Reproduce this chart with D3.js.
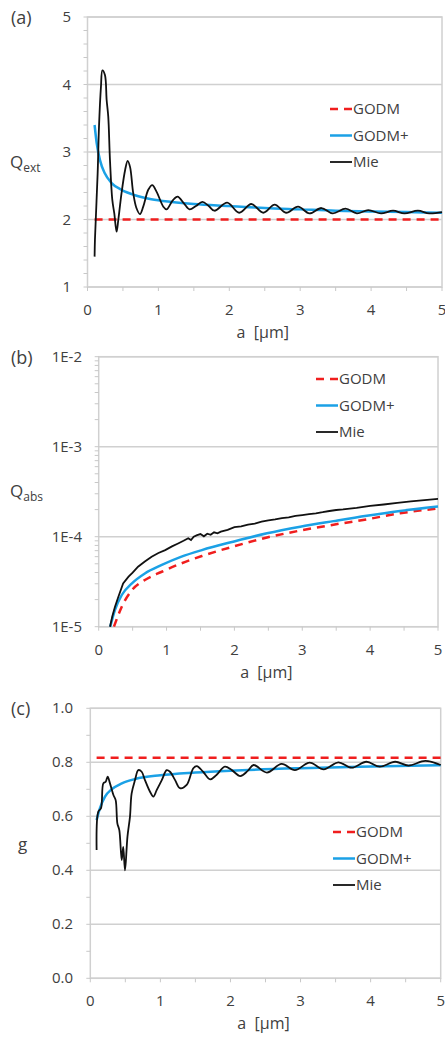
<!DOCTYPE html>
<html>
<head>
<meta charset="utf-8">
<script src="https://cdn.jsdelivr.net/npm/d3@7"></script>
<style>
  body { margin: 0; background: #fff; }
  text { font-family: "Open Sans", sans-serif; fill: #404040; }
</style>
</head>
<body>
<svg id="mychart" width="445" height="1046"></svg>
<script>
// ---- panel (a): Q_ext ----
const extMieA = [0.1, 0.105, 0.143, 0.162, 0.19, 0.21, 0.246, 0.27, 0.293, 0.317, 0.35, 0.378, 0.41, 0.434, 0.48,
  0.53, 0.566, 0.6, 0.645, 0.69, 0.74, 0.786, 0.857, 0.913, 0.975, 1.07, 1.115, 1.2, 1.27, 1.36, 1.44, 1.53, 1.62,
  1.71, 1.79, 1.97, 2.14, 2.31, 2.48, 2.64, 2.8, 2.97, 3.13, 3.3, 3.46, 3.64, 3.8, 3.96, 4.14, 4.31, 4.47, 4.66,
  4.82, 5.0];
const extMieQ = [1.45, 1.7, 2.68, 3.37, 3.97, 4.21, 4.14, 3.77, 3.52, 2.88, 2.29, 2.09, 1.82, 1.99, 2.39,
  2.73, 2.87, 2.78, 2.39, 2.17, 2.08, 2.19, 2.44, 2.51, 2.41, 2.19, 2.15, 2.28, 2.34, 2.24, 2.15, 2.2, 2.26,
  2.2, 2.13, 2.25, 2.1, 2.23, 2.1, 2.22, 2.1, 2.19, 2.09, 2.17, 2.09, 2.16, 2.09, 2.14, 2.09, 2.13, 2.09, 2.13,
  2.09, 2.11];
const extPlusA = [0.1, 0.13, 0.176, 0.246, 0.34, 0.48, 0.67, 0.9, 1.19, 1.5, 2.0, 2.5, 3.0, 3.5, 4.0, 4.5, 5.0];
const extPlusQ = [3.4, 3.13, 2.88, 2.68, 2.54, 2.44, 2.36, 2.3, 2.26, 2.23, 2.2, 2.17, 2.15, 2.13, 2.12, 2.11, 2.1];
const extGodmA = [0.1, 5.0];
const extGodmQ = [2.0, 2.0];

// ---- panel (b): Q_abs ----
const absMieA = [0.167, 0.2, 0.24, 0.29, 0.36, 0.44, 0.5, 0.58, 0.68, 0.78, 0.88, 0.98, 1.08, 1.17, 1.25, 1.32,
  1.36, 1.4, 1.45, 1.5, 1.55, 1.6, 1.65, 1.7, 1.75, 1.8, 1.9, 2.0, 2.1, 2.2, 2.3, 2.4, 2.5, 2.6, 2.7, 2.8, 2.9,
  3.0, 3.1, 3.2, 3.3, 3.4, 3.5, 3.6, 3.7, 3.8, 3.9, 4.0, 4.2, 4.4, 4.6, 4.8, 5.0];
const absMieQ = [1.0e-5, 1.3e-5, 1.67e-5, 2.15e-5, 3.03e-5, 3.6e-5, 4.0e-5, 4.64e-5, 5.3e-5, 6.0e-5, 6.6e-5,
  7.1e-5, 7.8e-5, 8.4e-5, 9.0e-5, 9.6e-5, 9.2e-5, 1.0e-4, 1.04e-4, 1.07e-4, 1.01e-4, 1.08e-4, 1.05e-4, 1.12e-4,
  1.09e-4, 1.14e-4, 1.19e-4, 1.28e-4, 1.3e-4, 1.36e-4, 1.4e-4, 1.47e-4, 1.52e-4, 1.56e-4, 1.61e-4, 1.64e-4,
  1.7e-4, 1.74e-4, 1.78e-4, 1.82e-4, 1.87e-4, 1.93e-4, 1.98e-4, 2.01e-4, 2.05e-4, 2.09e-4, 2.15e-4, 2.2e-4,
  2.28e-4, 2.38e-4, 2.47e-4, 2.55e-4, 2.63e-4];
const absPlusA = [0.17, 0.24, 0.34, 0.49, 0.68, 0.93, 1.22, 1.52, 1.98, 2.48, 2.97, 3.46, 3.95, 4.44, 5.0];
const absPlusQ = [1.0e-5, 1.54e-5, 2.25e-5, 3.03e-5, 3.9e-5, 4.85e-5, 6.0e-5, 7.1e-5, 8.8e-5, 1.09e-4, 1.29e-4,
  1.49e-4, 1.71e-4, 1.93e-4, 2.16e-4];
const absGodmA = [0.225, 0.34, 0.49, 0.68, 0.93, 1.22, 1.52, 1.98, 2.48, 2.97, 3.46, 3.95, 4.44, 5.0];
const absGodmQ = [1.0e-5, 1.67e-5, 2.55e-5, 3.3e-5, 4.08e-5, 5.06e-5, 6.1e-5, 7.76e-5, 9.8e-5, 1.17e-4, 1.36e-4,
  1.56e-4, 1.82e-4, 2.06e-4];

// ---- panel (c): g ----
const gMieA = [0.09, 0.114, 0.153, 0.186, 0.22, 0.248, 0.281, 0.33, 0.362, 0.386, 0.414, 0.448, 0.47, 0.495, 0.53,
  0.566, 0.59, 0.638, 0.685, 0.733, 0.78, 0.852, 0.9, 0.947, 1.02, 1.09, 1.137, 1.21, 1.28, 1.375, 1.47, 1.52,
  1.61, 1.71, 1.8, 1.92, 2.02, 2.14, 2.25, 2.33, 2.52, 2.73, 2.92, 3.13, 3.33, 3.54, 3.73, 3.94, 4.13, 4.35, 4.54,
  4.78, 5.0];
const gMieG = [0.475, 0.617, 0.63, 0.722, 0.728, 0.747, 0.722, 0.679, 0.66, 0.574, 0.549, 0.438, 0.487, 0.4, 0.524,
  0.598, 0.685, 0.734, 0.771, 0.765, 0.734, 0.691, 0.673, 0.697, 0.734, 0.771, 0.765, 0.734, 0.704, 0.716, 0.778,
  0.786, 0.765, 0.737, 0.753, 0.784, 0.771, 0.749, 0.769, 0.79, 0.762, 0.794, 0.771, 0.799, 0.774, 0.8, 0.78,
  0.802, 0.784, 0.802, 0.788, 0.805, 0.79];
const gPlusA = [0.09, 0.138, 0.21, 0.305, 0.45, 0.64, 1.0, 1.5, 2.0, 3.0, 4.0, 5.0];
const gPlusG = [0.586, 0.63, 0.673, 0.7, 0.722, 0.738, 0.752, 0.762, 0.769, 0.778, 0.784, 0.789];
const gGodmA = [0.09, 5.0];
const gGodmG = [0.817, 0.817];

const xTicks = [0, 1, 2, 3, 4, 5];
const seriesNames = ["GODM", "GODM+", "Mie"];
const colors = { GODM: "#f01e1e", "GODM+": "#1ba1e6", Mie: "#111111" };

const svg = d3.select("#mychart");

const zip = (xs, ys) => xs.map((x, i) => ({ x: x, y: ys[i] }));

function drawPanel(p) {
  const g = svg.append("g");
  const xScale = d3.scaleLinear().domain([0, 5]).range([p.left, p.right]);
  const yScale = (p.log ? d3.scaleLog() : d3.scaleLinear()).domain(p.yDomain).range([p.bottom, p.top]);

  // horizontal gridlines at major ticks
  g.selectAll(".grid").data(p.yTicks).join("line")
    .attr("x1", p.left).attr("x2", p.right)
    .attr("y1", (d) => yScale(d)).attr("y2", (d) => yScale(d))
    .attr("stroke", "#d0d0d0").attr("stroke-width", 1.5);
  // frame
  g.append("rect")
    .attr("x", p.left).attr("y", p.top)
    .attr("width", p.right - p.left).attr("height", p.bottom - p.top)
    .attr("fill", "none").attr("stroke", "#d0d0d0").attr("stroke-width", 1.5);

  // minor ticks
  g.selectAll(".ym").data(p.yMinor).join("line")
    .attr("x1", p.left - 4).attr("x2", p.left)
    .attr("y1", (d) => yScale(d)).attr("y2", (d) => yScale(d))
    .attr("stroke", "#c8c8c8");
  g.selectAll(".xm").data(d3.range(0, 5.01, 0.5)).join("line")
    .attr("x1", (d) => xScale(d)).attr("x2", (d) => xScale(d))
    .attr("y1", p.bottom).attr("y2", p.bottom + 4)
    .attr("stroke", "#c8c8c8");

  // tick labels
  g.selectAll(".yl").data(p.yTicks).join("text")
    .attr("x", p.yLabelX).attr("y", (d) => yScale(d) + 5)
    .attr("text-anchor", "end").attr("font-size", 15)
    .text((d, i) => p.yLabels[i]);
  g.selectAll(".xl").data(xTicks).join("text")
    .attr("x", (d) => xScale(d)).attr("y", p.bottom + 28)
    .attr("text-anchor", "middle").attr("font-size", 15)
    .text((d) => d);

  // titles
  g.append("text").attr("x", (p.left + p.right) / 2 - 2).attr("y", p.bottom + 51)
    .attr("text-anchor", "middle").attr("font-size", 16).text("a\u00a0\u00a0[µm]");
  g.append("text").attr("x", 11).attr("y", p.top + 7).attr("font-size", 18).text(p.tag);
  const yt = g.append("text").attr("x", p.yTitleX).attr("y", p.yTitleY).attr("font-size", 17);
  yt.append("tspan").text(p.yTitle);
  if (p.ySub) yt.append("tspan").attr("font-size", 12).attr("dy", 4).text(p.ySub);

  // lines
  const line = d3.line().x((d) => xScale(d.x)).y((d) => yScale(d.y));
  g.append("path").datum(zip(p.godm[0], p.godm[1]))
    .attr("d", line.curve(d3.curveMonotoneX))
    .attr("fill", "none").attr("stroke", colors.GODM).attr("stroke-width", 2.5)
    .attr("stroke-dasharray", "8,6");
  g.append("path").datum(zip(p.plus[0], p.plus[1]))
    .attr("d", line.curve(d3.curveMonotoneX))
    .attr("fill", "none").attr("stroke", colors["GODM+"]).attr("stroke-width", 2.5);
  g.append("path").datum(zip(p.mie[0], p.mie[1]))
    .attr("d", line.curve(p.mieCurve))
    .attr("fill", "none").attr("stroke", colors.Mie).attr("stroke-width", 1.8);

  // legend
  const lg = g.selectAll(".lg").data(seriesNames).join("g")
    .attr("transform", (d, i) => `translate(${p.legX},${p.legY + i * 26.5})`);
  lg.append("line").attr("x1", 0).attr("x2", 22).attr("y1", 0).attr("y2", 0)
    .attr("stroke", (d) => colors[d])
    .attr("stroke-width", (d) => (d === "Mie" ? 1.8 : 2.5))
    .attr("stroke-dasharray", (d) => (d === "GODM" ? "8,6" : null));
  lg.append("text").attr("x", 23).attr("y", 5).attr("font-size", 15).text((d) => d);
}

drawPanel({
  tag: "(a)", left: 87.5, right: 442, top: 17, bottom: 287,
  yDomain: [1, 5], yTicks: [1, 2, 3, 4, 5], yLabels: ["1", "2", "3", "4", "5"],
  yMinor: d3.range(1, 5.001, 0.2), yLabelX: 71,
  yTitle: "Q", ySub: "ext", yTitleX: 10, yTitleY: 168,
  godm: [extGodmA, extGodmQ], plus: [extPlusA, extPlusQ], mie: [extMieA, extMieQ],
  mieCurve: d3.curveCatmullRom, legX: 330, legY: 109
});

drawPanel({
  tag: "(b)", left: 98.7, right: 438, top: 356.7, bottom: 626.7, log: true,
  yDomain: [1e-5, 1e-2], yTicks: [1e-5, 1e-4, 1e-3, 1e-2], yLabels: ["1E-5", "1E-4", "1E-3", "1E-2"],
  yMinor: [1e-5, 1e-4, 1e-3].flatMap((d) => d3.range(1, 10).map((k) => d * k)).concat([1e-2]), yLabelX: 82,
  yTitle: "Q", ySub: "abs", yTitleX: 10, yTitleY: 497,
  godm: [absGodmA, absGodmQ], plus: [absPlusA, absPlusQ], mie: [absMieA, absMieQ],
  mieCurve: d3.curveLinear, legX: 316, legY: 379
});

drawPanel({
  tag: "(c)", left: 90.3, right: 440.7, top: 708.3, bottom: 978.3,
  yDomain: [0, 1], yTicks: [0, 0.2, 0.4, 0.6, 0.8, 1.0], yLabels: ["0.0", "0.2", "0.4", "0.6", "0.8", "1.0"],
  yMinor: d3.range(0, 1.001, 0.1), yLabelX: 73,
  yTitle: "g", yTitleX: 18, yTitleY: 850,
  godm: [gGodmA, gGodmG], plus: [gPlusA, gPlusG], mie: [gMieA, gMieG],
  mieCurve: d3.curveCatmullRom, legX: 333, legY: 832
});
</script>
</body>
</html>
